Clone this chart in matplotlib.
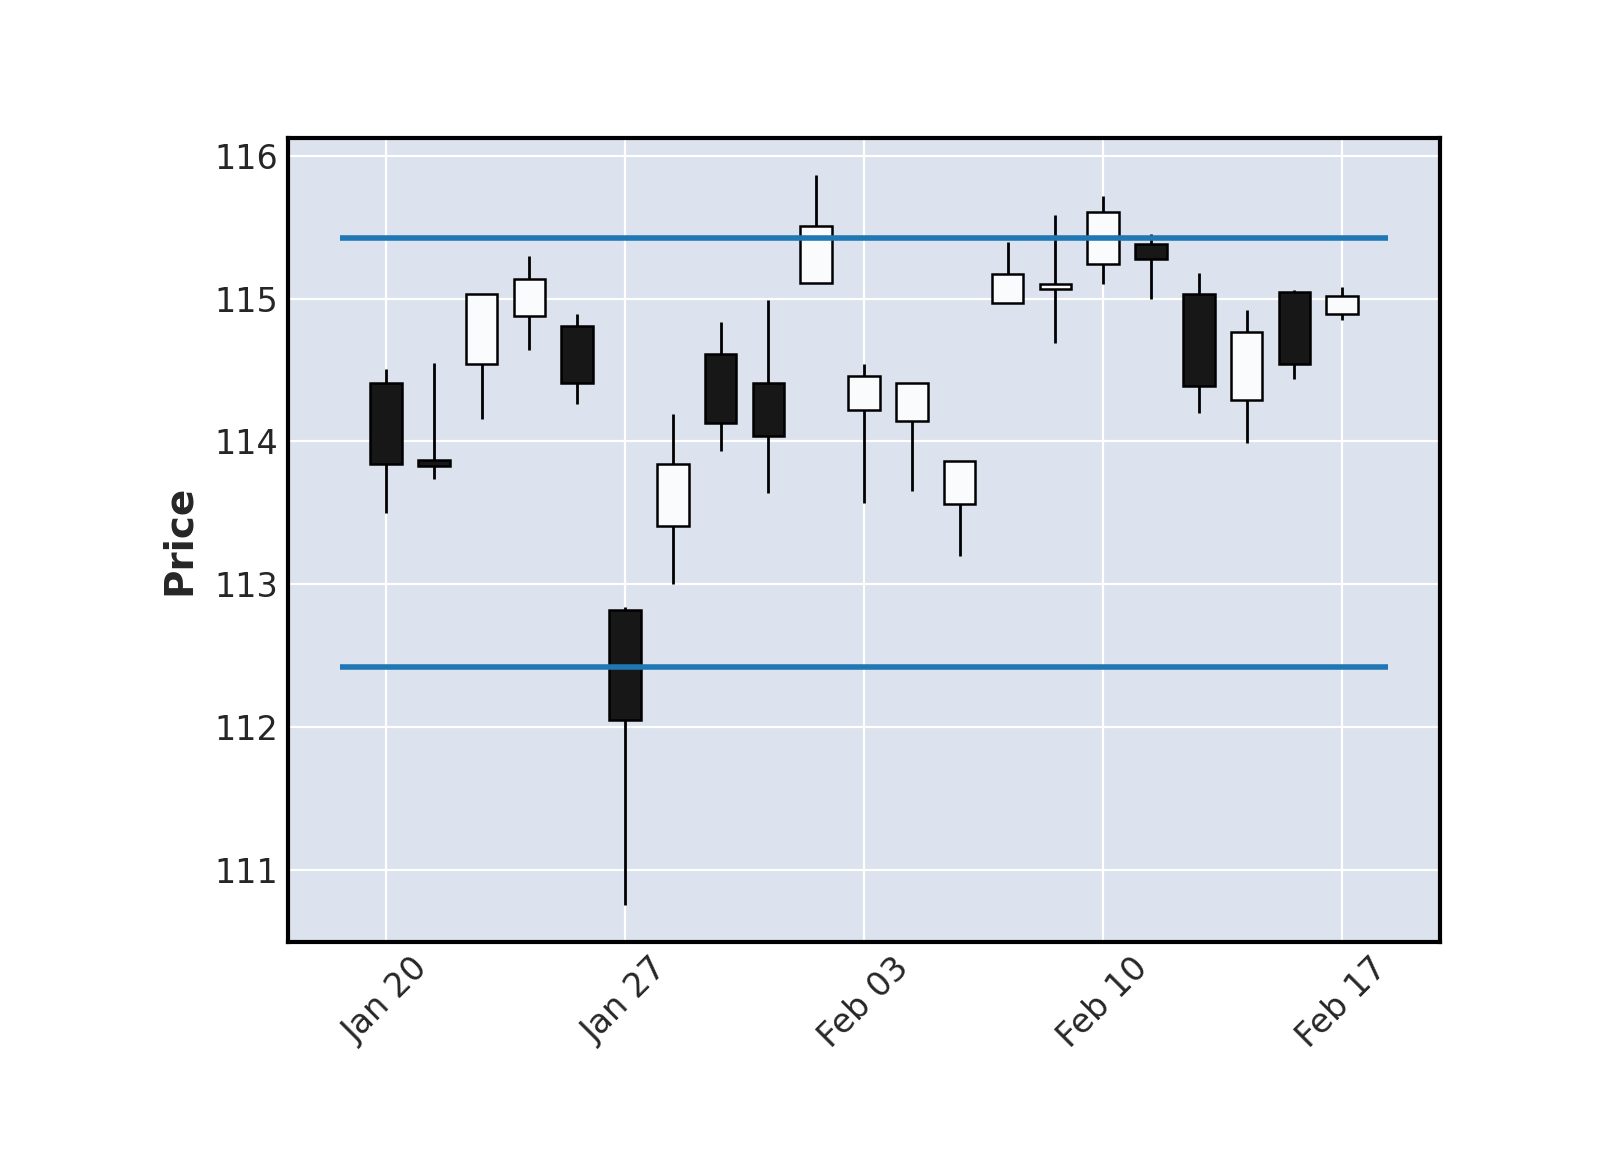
import matplotlib
matplotlib.use('Agg')
import matplotlib.pyplot as plt
import numpy as np
import pandas as pd

# Daily OHLC values (trading days only)
dates = ['2020-01-20', '2020-01-21', '2020-01-22', '2020-01-23', '2020-01-24',
         '2020-01-27', '2020-01-28', '2020-01-29', '2020-01-30', '2020-01-31',
         '2020-02-03', '2020-02-04', '2020-02-05', '2020-02-06', '2020-02-07',
         '2020-02-10', '2020-02-11', '2020-02-12', '2020-02-13', '2020-02-14',
         '2020-02-17']
opens = [114.41, 113.87, 114.54, 114.88, 114.81, 112.82, 113.41, 114.61, 114.41, 115.11,
         114.22, 114.14, 113.56, 114.97, 115.07, 115.24, 115.38, 115.03, 114.29, 115.05,
         114.89]
highs = [114.51, 114.55, 115.03, 115.30, 114.89, 112.84, 114.19, 114.84, 114.99, 115.87,
         114.54, 114.41, 113.86, 115.40, 115.59, 115.72, 115.45, 115.18, 114.92, 115.06,
         115.08]
lows = [113.50, 113.74, 114.16, 114.64, 114.26, 110.75, 113.00, 113.93, 113.64, 115.11,
        113.57, 113.65, 113.20, 114.97, 114.69, 115.10, 115.00, 114.20, 113.99, 114.44,
        114.85]
closes = [113.84, 113.83, 115.03, 115.14, 114.41, 112.05, 113.84, 114.13, 114.04, 115.51,
          114.46, 114.41, 113.86, 115.17, 115.10, 115.61, 115.28, 114.39, 114.77, 114.54,
          115.02]
hline_levels = [115.424, 112.419]

df = pd.DataFrame({'Open': opens, 'High': highs, 'Low': lows, 'Close': closes},
                  index=pd.to_datetime(dates))
x = np.arange(len(df))

fig = plt.figure(figsize=(8, 5.75), dpi=200)
ax = fig.add_axes([0.1798, 0.181, 0.7202, 0.699])
ax.set_facecolor('#dce2ee')
ax.grid(True, color='white', linewidth=0.8)
ax.set_axisbelow(True)

up = df['Close'] >= df['Open']
body_bottom = np.minimum(df['Open'], df['Close'])
body_height = np.abs(df['Close'] - df['Open'])
face = np.where(up, '#fafbfd', '#171717')

ax.vlines(x, df['Low'], df['High'], color='black', linewidth=1.0, zorder=2)
ax.bar(x, body_height, bottom=body_bottom, width=0.66, color=face,
       edgecolor='black', linewidth=0.9, zorder=3)

# horizontal levels
for lvl in hline_levels:
    ax.plot([x[0] - 0.96, x[-1] + 0.95], [lvl, lvl], color='#1f77b4', linewidth=2.0,
            solid_capstyle='butt', zorder=4)

ax.margins(x=0.05, y=0.05)

ticks = x[::5]
ax.set_xticks(ticks)
ax.set_xticklabels(df.index[::5].strftime('%b %d'), rotation=45, ha='center')
ax.tick_params(axis='both', length=0, pad=3.5, labelsize=12, labelcolor='#262626')
ax.set_ylabel('Price', fontsize=14, fontweight='bold', color='#262626', labelpad=6)

for s in ax.spines.values():
    s.set_color('black')
    s.set_linewidth(1.5)

fig.savefig('out.png', dpi=200)
